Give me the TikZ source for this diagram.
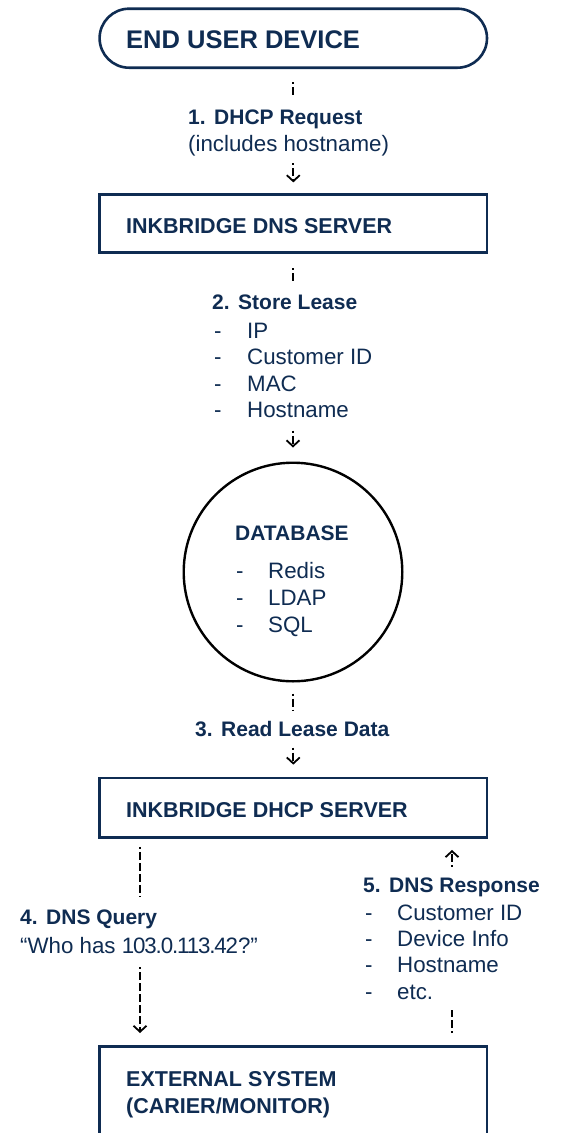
\documentclass[tikz,border=0pt]{standalone}
\usepackage{fontspec}
\setmainfont{Liberation Sans}
\usetikzlibrary{arrows.meta}
\definecolor{navy}{HTML}{0F2C52}

\tikzset{
  frame/.style={draw=navy, line width=2.6pt, inner sep=0pt, minimum width=387.4pt},
  dbcircle/.style={draw=black, line width=2.4pt, circle, inner sep=0pt, minimum size=218.6pt},
  hdr/.style={anchor=base west, inner sep=0pt, text=navy, font=\bfseries\fontsize{21.5}{26}\selectfont},
  lbl/.style={anchor=base west, inner sep=0pt, text=navy, font=\bfseries\fontsize{21}{25}\selectfont},
  txt/.style={anchor=base west, inner sep=0pt, text=navy, font=\fontsize{22.3}{26}\selectfont},
  flow/.style={draw=black, line width=2.1pt, dash pattern=on 8pt off 3pt, dash phase=6pt},
  flowarrow/.style={flow, -{Straight Barb[length=6pt,width=13pt,line width=1.8pt]}}
}
\newcommand{\numgap}{\hspace{8.5pt}}

\begin{document}
\begin{tikzpicture}[x=1pt,y=-1pt]
  \clip (0,0) rectangle (563,1133);
  \fill[white] (0,0) rectangle (563,1133);

  % boxes and the database
  \node[frame, rounded corners=29.5pt, minimum height=59pt] (enduser) at (293.3,38.2) {};
  \node[frame, minimum height=58pt] (dns) at (293.3,223.7) {};
  \node[dbcircle] (db) at (293,572) {};
  \node[frame, minimum height=59.7pt] (dhcp) at (293.3,807.8) {};
  \node[frame, minimum height=154pt] (ext) at (293.3,1123.3) {};

  % box captions
  \node[hdr, font=\bfseries\fontsize{25.5}{30}\selectfont] (enduserT) at (126,48) {END USER DEVICE};
  \node[hdr] (dnsT) at (126,233) {INKBRIDGE DNS SERVER};
  \node[hdr, font=\bfseries\fontsize{21}{25}\selectfont] (dbT) at (235,540) {DATABASE};
  \node[hdr] (dhcpT) at (126,817) {INKBRIDGE DHCP SERVER};
  \node[hdr] (extT1) at (126,1086) {EXTERNAL SYSTEM};
  \node[hdr] (extT2) at (126,1113) {(CARIER/MONITOR)};

  \foreach \t [count=\i] in {Redis, LDAP, SQL} {
    \node[txt] (dbd\i) at (236,{578+(\i-1)*27}) {-};
    \node[txt] (dbt\i) at (268,{578+(\i-1)*27}) {\t};
  }

  % step 1
  \node[lbl] (s1) at (188,124) {1.\numgap DHCP Request};
  \node[txt] (s1b) at (188,151) {(includes hostname)};
  \draw[flow] ([yshift=-13pt]enduser.south) -- ([yshift=-28pt]enduser.south);
  \draw[flowarrow] ([yshift=30pt]dns.north) -- ([yshift=11pt]dns.north);

  % step 2
  \node[lbl] (s2) at (212,309) {2.\numgap Store Lease};
  \foreach \t [count=\i] in {IP, Customer ID, MAC, Hostname} {
    \node[txt] (s2d\i) at (214,{338+(\i-1)*26.5}) {-};
    \node[txt] (s2t\i) at (247,{338+(\i-1)*26.5}) {\t};
  }
  \draw[flow] ([yshift=-14pt]dns.south) -- ([yshift=-28pt]dns.south);
  \draw[flowarrow] ([yshift=31pt]db.north) -- ([yshift=14pt]db.north);

  % step 3
  \node[lbl] (s3) at (195,736) {3.\numgap Read Lease Data};
  \draw[flow] ([yshift=-11pt]db.south) -- ([yshift=-28pt]db.south);
  \draw[flowarrow] ([yshift=29pt]dhcp.north) -- ([yshift=12pt]dhcp.north);

  % step 4
  \node[lbl] (s4) at (20,924) {4.\numgap DNS Query};
  \node[txt] (s4b) at (20,953) {“Who has {\addfontfeatures{LetterSpace=-5}103.0.113.42}?”};
  \draw[flow] ([xshift=-153.3pt,yshift=-8pt]dhcp.south) -- ([xshift=-153.3pt,yshift=-58pt]dhcp.south);
  \draw[flowarrow] ([xshift=-153.3pt,yshift=78pt]ext.north) -- ([xshift=-153.3pt,yshift=12pt]ext.north);

  % step 5
  \node[lbl] (s5) at (363,892) {5.\numgap DNS Response};
  \foreach \t [count=\i] in {Customer ID, Device Info, Hostname, etc.} {
    \node[txt] (s5d\i) at (365,{920+(\i-1)*26.4}) {-};
    \node[txt] (s5t\i) at (397,{920+(\i-1)*26.4}) {\t};
  }
  \draw[flow] ([xshift=158.7pt,yshift=12pt]ext.north) -- ([xshift=158.7pt,yshift=35pt]ext.north);
  \draw[flowarrow] ([xshift=158.7pt,yshift=-28pt]dhcp.south) -- ([xshift=158.7pt,yshift=-11pt]dhcp.south);
\end{tikzpicture}
\end{document}
